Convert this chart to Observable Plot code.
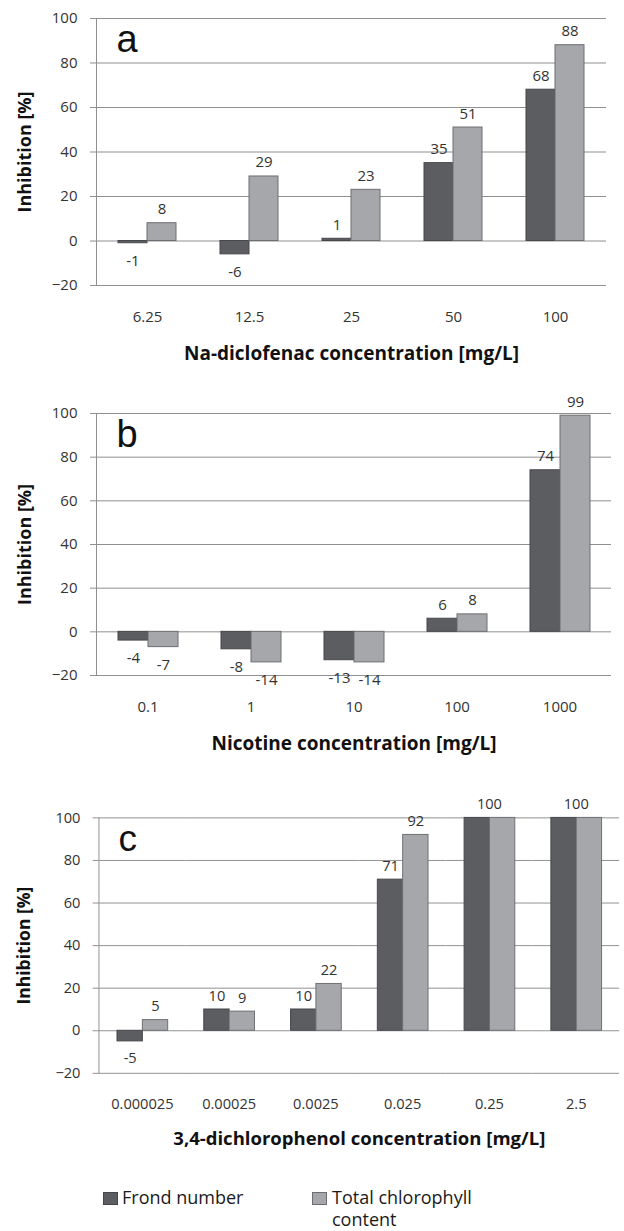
<!DOCTYPE html>
<html><head><meta charset="utf-8">
<script src="https://cdn.jsdelivr.net/npm/d3@7"></script>
<script src="https://cdn.jsdelivr.net/npm/@observablehq/plot@0.6"></script>
<style>
body{margin:0;background:#fff;}
#wrap{position:relative;width:624px;height:1231px;overflow:hidden;background:#fff;font-family:"Open Sans",sans-serif;}
.panel{position:absolute;left:0;}
.lg{position:absolute;font-size:18px;line-height:22px;color:#1a1a1a;}
.sw{position:absolute;width:13px;height:11px;}
svg [aria-label="fx-axis label"] text{font-weight:bold;font-size:19px;fill:#111;}
</style></head><body>
<div id="wrap">
  <div id="pa" class="panel" style="top:0px"></div>
  <div id="pb" class="panel" style="top:365px"></div>
  <div id="pc" class="panel" style="top:755px"></div>
  <div id="legend"></div>
</div>
<script>
const series = ["Frond number", "Total chlorophyll content"];
const yTicks = [-20, 0, 20, 40, 60, 80, 100];
const yTitle = "Inhibition [%]";

const concA = ["6.25", "12.5", "25", "50", "100"];
const frondA = [-1, -6, 1, 35, 68];
const chloroA = [8, 29, 23, 51, 88];

const concB = ["0.1", "1", "10", "100", "1000"];
const frondB = [-4, -8, -13, 6, 74];
const chloroB = [-7, -14, -14, 8, 99];

const concC = ["0.000025", "0.00025", "0.0025", "0.025", "0.25", "2.5"];
const frondC = [-5, 10, 10, 71, 100, 100];
const chloroC = [5, 9, 22, 92, 100, 100];

const titles = ["Na-diclofenac concentration [mg/L]", "Nicotine concentration [mg/L]", "3,4-dichlorophenol concentration [mg/L]"];
const letters = ["a", "b", "c"];

const fills = ["#5c5d61", "#a6a7ab"];
const strokes = ["#46474b", "#6d6e72"];
const gridColor = "#8f8f8f";

function panel(conc, frond, chloro, letter, title, opt) {
  const rows = conc.flatMap((c, i) => [
    {conc: c, series: series[0], value: frond[i], shared: frond[i] === chloro[i]},
    {conc: c, series: series[1], value: chloro[i], shared: frond[i] === chloro[i]}
  ]);
  const single = rows.filter(d => !d.shared);
  const joint = conc.map((c, i) => ({conc: c, value: frond[i], shared: frond[i] === chloro[i]})).filter(d => d.shared);
  const lab = {fontSize: 15, fill: "#333"};
  return Plot.plot({
    width: opt.width, height: opt.height,
    marginTop: opt.marginTop, marginBottom: 80, marginLeft: opt.marginLeft, marginRight: opt.marginRight,
    style: {fontFamily: "'Open Sans', sans-serif", fontSize: "15px", color: "#333", background: "white", overflow: "visible"},
    fx: {domain: conc, padding: 0},
    x: {domain: series, paddingInner: 0, paddingOuter: 0.71, axis: null},
    y: {domain: [-20, 100]},
    marks: [
      Plot.gridY(yTicks, {stroke: gridColor, strokeOpacity: 1}),
      Plot.frame({anchor: "left", facetAnchor: "left", stroke: gridColor}),
      Plot.axisY(yTicks, {tickSize: 6, tickPadding: 13, stroke: gridColor, fill: "#333", fontSize: 15,
        label: null, facetAnchor: "left"}),
      Plot.axisFx({anchor: "bottom", tickSize: 0, tickPadding: 26, fontSize: 15, fill: "#333",
        label: title, labelAnchor: "center", labelOffset: 74}),
      Plot.text([{conc: conc[0], t: yTitle}], {fx: "conc", text: "t", frameAnchor: "left", rotate: -90,
        textAnchor: "middle", lineAnchor: "middle", dx: -(opt.marginLeft - 24), fontSize: 18, fontWeight: "bold", fill: "#111"}),
      Plot.barY(rows.filter(d => d.series === series[0]), {fx: "conc", x: "series", y: "value", fill: fills[0], stroke: strokes[0], strokeWidth: 1}),
      Plot.barY(rows.filter(d => d.series === series[1]), {fx: "conc", x: "series", y: "value", fill: fills[1], stroke: strokes[1], strokeWidth: 1}),
      Plot.text(single.filter(d => d.value >= 0), {fx: "conc", x: "series", y: "value", text: d => String(d.value), lineAnchor: "bottom", dy: -9, ...lab}),
      Plot.text(single.filter(d => d.value < 0), {fx: "conc", x: "series", y: "value", text: d => String(d.value), lineAnchor: "top", dy: 12, ...lab}),
      Plot.text(joint, {fx: "conc", y: "value", text: d => String(d.value), lineAnchor: "bottom", dy: -9, ...lab}),
      Plot.text([{conc: conc[0], letter}], {fx: "conc", text: "letter", frameAnchor: "top-left", textAnchor: "start", lineAnchor: "top",
        dx: 20, dy: 7, fontSize: 38, fontFamily: "'Liberation Sans', Arial, sans-serif", fill: "#111"})
    ]
  });
}

document.getElementById("pa").appendChild(panel(concA, frondA, chloroA, letters[0], titles[0], {width: 624, height: 365, marginTop: 18, marginLeft: 95, marginRight: 18}));
document.getElementById("pb").appendChild(panel(concB, frondB, chloroB, letters[1], titles[1], {width: 624, height: 390, marginTop: 48, marginLeft: 95, marginRight: 12}));
document.getElementById("pc").appendChild(panel(concC, frondC, chloroC, letters[2], titles[2], {width: 640, height: 406, marginTop: 64, marginLeft: 100, marginRight: 4}));

// legend
const lg = document.getElementById("legend");
const items = [{x: 103, tx: 122, w: 200}, {x: 312, tx: 332, w: 160}];
series.forEach((s, i) => {
  const sw = document.createElement("div");
  sw.className = "sw";
  sw.style.left = items[i].x + "px";
  sw.style.top = "1192px";
  sw.style.background = fills[i];
  sw.style.border = "1px solid " + strokes[i];
  lg.appendChild(sw);
  const t = document.createElement("div");
  t.className = "lg";
  t.style.left = items[i].tx + "px";
  t.style.top = "1186px";
  t.style.width = items[i].w + "px";
  t.textContent = s;
  lg.appendChild(t);
});
</script>
</body></html>
